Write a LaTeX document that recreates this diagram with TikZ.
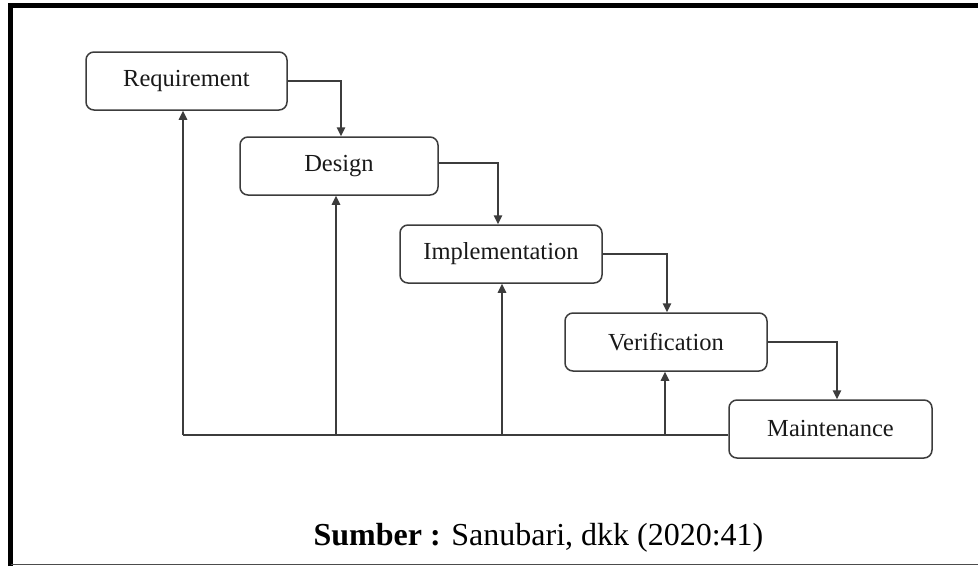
\documentclass[tikz,border=0pt]{standalone}
\usepackage{fontspec}
\setmainfont{Liberation Serif}
\usetikzlibrary{arrows.meta,calc}
\definecolor{linegray}{HTML}{3C3C3C}
\tikzset{
  x=1pt, y=-1pt,
  phase/.style={draw=linegray, line width=1.5pt, rounded corners=8pt, minimum height=58pt,
    inner sep=0pt, font=\fontsize{24.5}{28}\selectfont, text=black!90},
  arr/.style={draw=linegray, line width=1.5pt, -{Triangle[length=9pt,width=8.5pt]}},
  ln/.style={draw=linegray, line width=1.5pt},
}
\begin{document}
\begin{tikzpicture}
\useasboundingbox (0,0) rectangle (978,566);
% frame
\draw[line width=5pt, black] (10.8,566) -- (10.8,5.8) -- (978,5.8);
\draw[line width=1.6pt, black!70] (10.8,564.5) -- (978,564.5);
% phases
\node[phase, minimum width=201pt] (req) at (186.5,81) {Requirement};
\node[phase, minimum width=198pt] (des) at (339,166) {Design};
\node[phase, minimum width=202pt] (imp) at (501,254) {Implementation};
\node[phase, minimum width=202pt] (ver) at (666,342) {Verification};
\node[phase, minimum width=203pt] (mai) at (830.5,429) {Maintenance};
% forward flow
\draw[arr] (req.east) -| ([xshift=2pt]des.north);
\draw[arr] ([yshift=3pt]des.east) -| ([xshift=-3pt]imp.north);
\draw[arr] (imp.east) -| ([xshift=1pt]ver.north);
\draw[arr] (ver.east) -| ([xshift=6.5pt]mai.north);
% feedback
\coordinate (base) at (183,435);
\draw[ln] (mai.west |- base) -- (base);
\draw[arr] ([xshift=-3.5pt]req.south |- base) -- ([xshift=-3.5pt]req.south);
\draw[arr] ([xshift=-3pt]des.south |- base) -- ([xshift=-3pt]des.south);
\draw[arr] ([xshift=1pt]imp.south |- base) -- ([xshift=1pt]imp.south);
\draw[arr] ([xshift=-1pt]ver.south |- base) -- ([xshift=-1pt]ver.south);
% caption
\node[anchor=base, inner sep=0pt, font=\fontsize{32}{38}\selectfont] (cap) at (538.5,545) {\textbf{Sumber :} Sanubari, dkk (2020:41)};
\end{tikzpicture}
\end{document}
